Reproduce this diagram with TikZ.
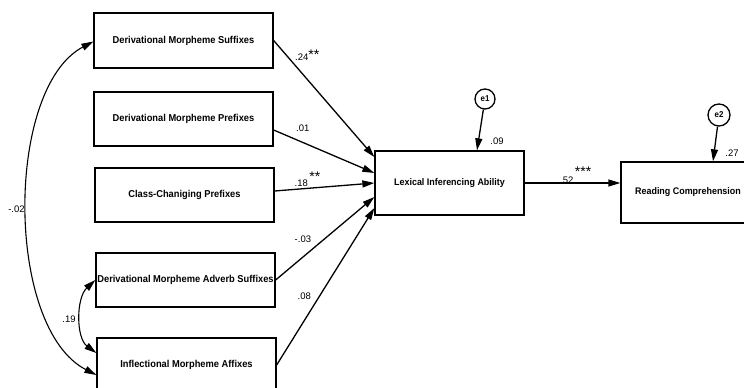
\documentclass[tikz,border=0pt]{standalone}
\usepackage{fontspec}
\setmainfont{Liberation Sans}
\newfontfamily\boxfont[FakeStretch=0.93]{Liberation Sans}
\usetikzlibrary{arrows.meta,calc}
\newcommand{\stars}[2]{\raisebox{#1}{\fontsize{14}{14}\selectfont #2}}
\tikzset{
  box/.style={draw, line width=1.3pt, rectangle, inner sep=0pt, font=\boxfont\fontsize{10}{12}\selectfont\bfseries},
  err/.style={draw, line width=1.3pt, circle, minimum size=20pt, inner sep=0pt, font=\boxfont\fontsize{8.5}{9}\selectfont\bfseries},
  path/.style={line width=1.3pt, -{Triangle[length=12pt,width=7pt]}},
  cov/.style={line width=1.1pt, {Triangle[length=12pt,width=7pt]}-{Triangle[length=12pt,width=7pt]}},
  coef/.style={font=\fontsize{9.5}{10}\selectfont, inner sep=0pt},
}
\begin{document}
\begin{tikzpicture}[x=1pt,y=1pt]
\useasboundingbox (0,0) rectangle (744,388);
\node[box, minimum width=179pt, minimum height=55pt] (dms) at (183.5,347.5) {Derivational Morpheme Suffixes};
\node[box, minimum width=179pt, minimum height=54pt] (dmp) at (183.5,269) {Derivational Morpheme Prefixes};
\node[box, minimum width=179pt, minimum height=54pt] (ccp) at (184.5,193) {Class-Chaniging Prefixes};
\node[box, minimum width=179pt, minimum height=54pt] (dmas) at (185.5,108) {Derivational Morpheme Adverb Suffixes};
\node[box, minimum width=179pt, minimum height=54pt] (ima) at (186.5,23) {Inflectional Morpheme Affixes};
\node[box, minimum width=149pt, minimum height=64pt, font=\boxfont\fontsize{9.6}{12}\selectfont\bfseries] (lia) at (449.5,205) {Lexical Inferencing Ability};
\node[box, minimum width=134pt, minimum height=61pt, font=\boxfont\fontsize{9.6}{12}\selectfont\bfseries] (rc) at (688,195.5) {Reading Comprehension};
\node[err] (e1) at (485,289) {e1};
\node[err, minimum size=22pt] (e2) at (719,273) {e2};

\draw[path] (dms.east) -- ([yshift=26pt]lia.west);
\draw[path] ([yshift=-11pt]dmp.east) -- ([yshift=10pt]lia.west);
\draw[path] ([yshift=4pt]ccp.east) -- (lia.west);
\draw[path] (dmas.east) -- ([yshift=-14pt]lia.west);
\draw[path] (ima.east) -- ([yshift=-25pt]lia.west);
\draw[path] (lia.east) -- (lia.east -| rc.west);
\draw[path] (e1) -- ([xshift=27.5pt]lia.north);
\draw[path] (e2) -- ([xshift=25pt]rc.north);

\coordinate (bigS) at ([yshift=-1pt]dms.west);
\coordinate (bigE) at ([yshift=-10pt]ima.west);
\draw[cov] (bigS) .. controls (5,300) and (5,60) .. (bigE);
\coordinate (smS) at (dmas.west);
\coordinate (smE) at ([yshift=12pt]ima.west);
\draw[cov] (smS) .. controls (76,90) and (76,50) .. (smE);

\node[coef, anchor=west] (c1) at (295,333) {.24\stars{1pt}{**}};
\node[coef, anchor=west] (c2) at (296,259.5) {.01};
\node[coef, anchor=west] (c3) at (294.5,208.5) {.18\,\stars{5pt}{**}};
\node[coef, anchor=west] (c4) at (294.5,148.5) {-.03};
\node[coef, anchor=west] (c5) at (297.5,91.5) {.08};
\node[coef] (c6) at (16.5,178.5) {-.02};
\node[coef] (c7) at (69,69) {.19};
\node[coef] (c8) at (497,247) {.09};
\node[coef] (c9) at (732,235) {.27};
\node[coef, anchor=west] (c10) at (560,213) {.52\,\stars{7.5pt}{***}};
\end{tikzpicture}
\end{document}
